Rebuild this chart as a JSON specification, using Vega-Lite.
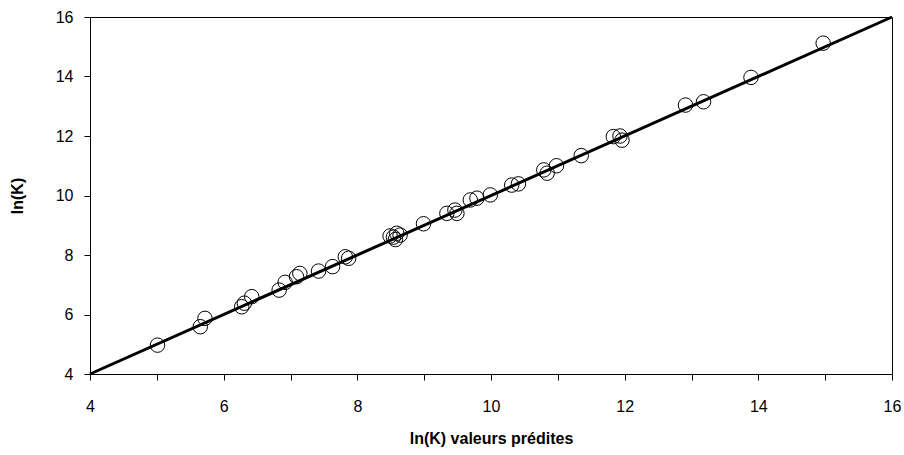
{
  "$schema": "https://vega.github.io/schema/vega-lite/v6.json",
  "width": 802,
  "height": 357,
  "autosize": "none",
  "padding": {"left": 90, "top": 17, "right": 12, "bottom": 81},
  "background": "white",
  "config": {
    "view": {"stroke": "black", "strokeWidth": 1},
    "font": "Liberation Sans",
    "axis": {
      "grid": false,
      "domainColor": "black",
      "tickColor": "black",
      "labelColor": "black",
      "titleColor": "black",
      "labelFont": "Liberation Sans",
      "titleFont": "Liberation Sans",
      "labelFontSize": 16,
      "titleFontSize": 16,
      "titleFontWeight": "bold",
      "tickSize": 6
    }
  },
  "datasets": {
    "pts": [
      {"pred": 5.01, "lnk": 4.97},
      {"pred": 5.65, "lnk": 5.59},
      {"pred": 5.72, "lnk": 5.87},
      {"pred": 6.27, "lnk": 6.26},
      {"pred": 6.31, "lnk": 6.38},
      {"pred": 6.42, "lnk": 6.6},
      {"pred": 6.83, "lnk": 6.82},
      {"pred": 6.92, "lnk": 7.08},
      {"pred": 7.09, "lnk": 7.27},
      {"pred": 7.14, "lnk": 7.38},
      {"pred": 7.42, "lnk": 7.46},
      {"pred": 7.63, "lnk": 7.61},
      {"pred": 7.82, "lnk": 7.94},
      {"pred": 7.87, "lnk": 7.89},
      {"pred": 8.49, "lnk": 8.64},
      {"pred": 8.54, "lnk": 8.6},
      {"pred": 8.59, "lnk": 8.73},
      {"pred": 8.64, "lnk": 8.67},
      {"pred": 8.57, "lnk": 8.52},
      {"pred": 8.99, "lnk": 9.05},
      {"pred": 9.34, "lnk": 9.4},
      {"pred": 9.46, "lnk": 9.51},
      {"pred": 9.49, "lnk": 9.4},
      {"pred": 9.69, "lnk": 9.85},
      {"pred": 9.79, "lnk": 9.91},
      {"pred": 9.99, "lnk": 10.02},
      {"pred": 10.31, "lnk": 10.35},
      {"pred": 10.41, "lnk": 10.39},
      {"pred": 10.79, "lnk": 10.86},
      {"pred": 10.84, "lnk": 10.75},
      {"pred": 10.98, "lnk": 11.0},
      {"pred": 11.35, "lnk": 11.34},
      {"pred": 11.83, "lnk": 11.98},
      {"pred": 11.93, "lnk": 12.0},
      {"pred": 11.96, "lnk": 11.86},
      {"pred": 12.91, "lnk": 13.04},
      {"pred": 13.18, "lnk": 13.15},
      {"pred": 13.89, "lnk": 13.97},
      {"pred": 14.97, "lnk": 15.12}
    ],
    "fit": [
      {"pred": 4, "lnk": 4},
      {"pred": 16, "lnk": 16}
    ]
  },
  "layer": [
    {
      "data": {"name": "fit"},
      "mark": {"type": "line", "color": "black", "strokeWidth": 3, "clip": false},
      "encoding": {
        "x": {"field": "pred", "type": "quantitative"},
        "y": {"field": "lnk", "type": "quantitative"}
      }
    },
    {
      "data": {"name": "pts"},
      "mark": {"type": "point", "shape": "circle", "filled": false, "stroke": "black", "strokeWidth": 1, "size": 210, "opacity": 1},
      "encoding": {
        "x": {
          "field": "pred",
          "type": "quantitative",
          "scale": {"domain": [4, 16], "nice": false, "zero": false},
          "axis": {
            "title": "ln(K) valeurs prédites",
            "values": [4, 5, 6, 7, 8, 9, 10, 11, 12, 13, 14, 15, 16],
            "format": "d",
            "labelExpr": "datum.value % 2 == 0 ? datum.label : ''",
            "labelPadding": 18,
            "titlePadding": 16,
            "labelFlush": false
          }
        },
        "y": {
          "field": "lnk",
          "type": "quantitative",
          "scale": {"domain": [4, 16], "nice": false, "zero": false},
          "axis": {
            "title": "ln(K)",
            "values": [4, 5, 6, 7, 8, 9, 10, 11, 12, 13, 14, 15, 16],
            "format": "d",
            "labelExpr": "datum.value % 2 == 0 ? datum.label : ''",
            "labelPadding": 11,
            "titlePadding": 30,
            "labelFlush": false
          }
        }
      }
    }
  ]
}
